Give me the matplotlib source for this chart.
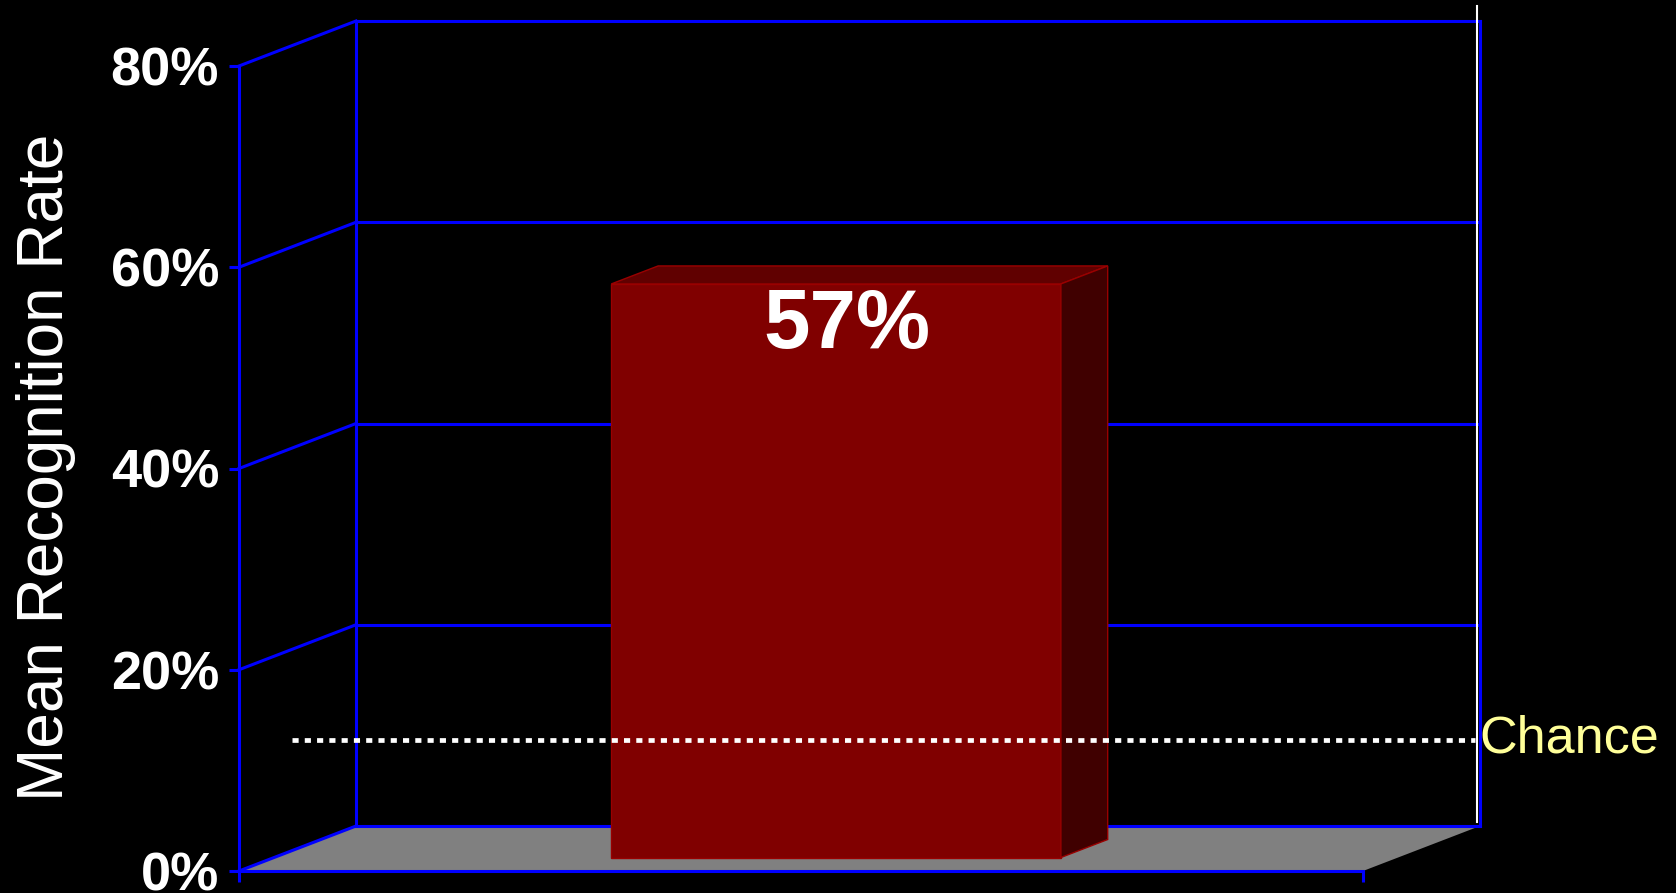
import numpy as np
import matplotlib.pyplot as plt
from matplotlib.patches import Polygon
from matplotlib.transforms import Affine2D, IdentityTransform

# chart data
values = [57]
value_labels = ['57%']
chance_level = 12.5
yticks = [0, 20, 40, 60, 80]
ytick_labels = ['0%', '20%', '40%', '60%', '80%']
ylabel = 'Mean Recognition Rate'
chance_text = 'Chance'

DEPTH = np.array([117.0, 45.0])   # pixel shift of the back wall
BLUE = '#0000FF'
FONT = 'Liberation Sans'

fig = plt.figure(figsize=(16.76, 8.93), dpi=100, facecolor='black')
ax = fig.add_axes([239 / 1676, 22 / 893, 1124 / 1676, 805 / 893])
ax.set_facecolor('none')
ax.set_xlim(0, 1)
ax.set_ylim(0, 80)


def proj(x, y, z):
    """data point (x, y) pushed back by depth z (0 = front, 1 = back)"""
    return ax.transData.transform((x, y)) + DEPTH * z


def at_depth(z):
    return ax.transData + Affine2D().translate(*(DEPTH * z))


def poly(pts, **kw):
    p = Polygon(pts, closed=True, transform=IdentityTransform(), clip_on=False, **kw)
    ax.add_patch(p)


def seg(p0, p1, **kw):
    ax.plot([p0[0], p1[0]], [p0[1], p1[1]], transform=IdentityTransform(),
            clip_on=False, solid_capstyle='projecting', **kw)


# floor
poly([proj(0, 0, 0), proj(1, 0, 0), proj(1, 0, 1), proj(0, 0, 1)],
     facecolor='#808080', edgecolor='none', zorder=1)

# walls and grid
for t in yticks:
    seg(proj(0, t, 1), proj(1, t, 1), color=BLUE, lw=2.2, zorder=2)
    seg(proj(0, t, 0), proj(0, t, 1), color=BLUE, lw=2.2, zorder=2)
seg(proj(0, 0, 1), proj(0, 80, 1), color=BLUE, lw=2.2, zorder=2)
seg(proj(1, 0, 1), proj(1, 80, 1), color=BLUE, lw=2.2, zorder=2)

# white frame line on the right
frame_bottom, frame_top = 0.4, 81.5
seg(proj(1, frame_bottom, 1) - [3, 0], proj(1, frame_top, 1) - [3, 0],
    color='white', lw=1.5, zorder=2)

# 3d bar
x0, x1 = 0.3, 0.7
z0, z1 = 0.3, 0.7
for v, lab in zip(values, value_labels):
    poly([proj(x0, 0, z0), proj(x1, 0, z0), proj(x1, v, z0), proj(x0, v, z0)],
         facecolor='#800000', edgecolor='#990000', lw=1, zorder=3)
    poly([proj(x0, v, z0), proj(x1, v, z0), proj(x1, v, z1), proj(x0, v, z1)],
         facecolor='#600000', edgecolor='#990000', lw=1, zorder=3)
    poly([proj(x1, 0, z0), proj(x1, 0, z1), proj(x1, v, z1), proj(x1, v, z0)],
         facecolor='#400000', edgecolor='#990000', lw=1, zorder=3)
    ax.annotate(lab, xy=((x0 + x1) / 2, v), xycoords=at_depth(z0),
                xytext=(7.5, -46), textcoords='offset points',
                ha='center', va='baseline', color='white', fontsize=60,
                fontweight='bold', family=FONT, zorder=6, annotation_clip=False)

# chance line
chance_z = 0.11
chance_x = [0.0356, 1.088]
ax.plot(chance_x, [chance_level, chance_level], transform=at_depth(chance_z),
        color='white', lw=3.4, dashes=(1.3, 1.3), dash_capstyle='butt',
        clip_on=False, zorder=5)
ax.annotate(chance_text, xy=(chance_x[1], chance_level), xycoords=at_depth(chance_z),
            xytext=(3.5, -8.6), textcoords='offset points', ha='left', va='baseline',
            color='#FFFF99', fontsize=37.5, family=FONT, annotation_clip=False)

# axes
for side in ['top', 'right']:
    ax.spines[side].set_visible(False)
for side in ['left', 'bottom']:
    ax.spines[side].set_color(BLUE)
    ax.spines[side].set_linewidth(2.2)
    ax.spines[side].set_zorder(2)
ax.set_yticks(yticks)
ax.set_yticklabels(ytick_labels, fontsize=39, fontweight='bold', family=FONT, color='white')
ax.set_xticks([0, 1])
ax.set_xticklabels(['', ''])
ax.tick_params(axis='y', length=7.2, width=2.2, color=BLUE, pad=7.2)
ax.tick_params(axis='x', length=8, width=2.2, color=BLUE)

ax.text(-0.1718, 0.502, ylabel, transform=ax.transAxes, rotation=90,
        ha='center', va='center', color='white', fontsize=46, family=FONT)

fig.savefig('out.png', dpi=100, facecolor='black')
